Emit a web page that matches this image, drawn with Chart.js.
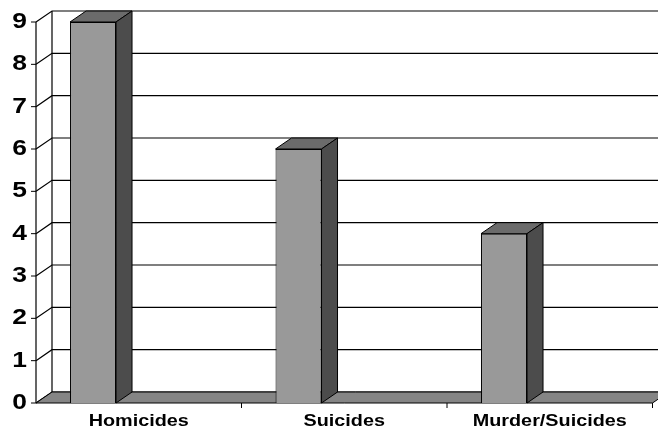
<!DOCTYPE html>
<html>
<head>
<meta charset="utf-8">
<script src="https://cdn.jsdelivr.net/npm/chart.js@4/dist/chart.umd.min.js"></script>
<style>
  html, body { margin: 0; padding: 0; background: #fff; }
  #wrap { width: 658px; height: 430px; }
</style>
</head>
<body>
<div id="wrap"><canvas id="chart"></canvas></div>
<script>
// data
const categories = ['Homicides', 'Suicides', 'Murder/Suicides'];
const counts = [9, 6, 4];
const yTicks = [0, 1, 2, 3, 4, 5, 6, 7, 8, 9];

// 3d look
const DX = 16, DY = -11;
const STRETCH = 1.2; // the source image is stretched sideways
const FRONT = '#999999', TOP = '#6b6b6b', SIDE = '#4c4c4c', FLOOR = '#858585';

function poly(ctx, pts, fill) {
  ctx.beginPath();
  ctx.moveTo(pts[0][0], pts[0][1]);
  for (let i = 1; i < pts.length; i++) ctx.lineTo(pts[i][0], pts[i][1]);
  ctx.closePath();
  if (fill) { ctx.fillStyle = fill; ctx.fill(); }
  ctx.strokeStyle = '#000';
  ctx.lineWidth = 1;
  ctx.stroke();
}

function stretchedText(ctx, text, x, y, align) {
  ctx.save();
  ctx.translate(x, y);
  ctx.scale(STRETCH, 1);
  ctx.textAlign = align;
  ctx.textBaseline = 'middle';
  ctx.fillText(text, 0, 0);
  ctx.restore();
}

const box3d = {
  id: 'box3d',
  beforeDatasetsDraw(chart) {
    const ctx = chart.ctx;
    const { left, right, bottom } = chart.chartArea;
    const y = chart.scales.y;
    ctx.save();
    // back wall gridlines
    ctx.strokeStyle = '#000';
    ctx.lineWidth = 1.2;
    yTicks.forEach(v => {
      const py = y.getPixelForValue(v);
      ctx.beginPath();
      ctx.moveTo(left, py);
      ctx.lineTo(left + DX, py + DY);
      ctx.lineTo(chart.width + 20, py + DY);
      ctx.stroke();
    });
    // wall edges
    const topY = y.getPixelForValue(yTicks[yTicks.length - 1]);
    ctx.beginPath();
    ctx.moveTo(left + DX, bottom + DY);
    ctx.lineTo(left + DX, topY + DY);
    ctx.moveTo(left, bottom);
    ctx.lineTo(left, topY);
    ctx.stroke();
    // floor
    poly(ctx, [[left, bottom], [right, bottom], [right + DX, bottom + DY], [left + DX, bottom + DY]], FLOOR);
    ctx.restore();
  },
  afterDatasetsDraw(chart) {
    const ctx = chart.ctx;
    const meta = chart.getDatasetMeta(0);
    ctx.save();
    meta.data.forEach(bar => {
      const { x, y, width, base } = bar.getProps(['x', 'y', 'width', 'base'], true);
      const l = x - width / 2, r = x + width / 2;
      poly(ctx, [[l, y], [r, y], [r + DX, y + DY], [l + DX, y + DY]], TOP);
      poly(ctx, [[r, y], [r + DX, y + DY], [r + DX, base + DY], [r, base]], SIDE);
    });
    ctx.restore();
  },
  afterDraw(chart) {
    const ctx = chart.ctx;
    const { left, bottom } = chart.chartArea;
    const x = chart.scales.x, y = chart.scales.y;
    ctx.save();
    ctx.strokeStyle = '#000';
    ctx.lineWidth = 1;
    ctx.fillStyle = '#000';
    // y ticks + labels
    ctx.font = 'bold 22px "Liberation Sans", Arial, sans-serif';
    yTicks.forEach(v => {
      const py = y.getPixelForValue(v);
      ctx.beginPath();
      ctx.moveTo(left - 5, py);
      ctx.lineTo(left, py);
      ctx.stroke();
      stretchedText(ctx, String(v), left - 9, py, 'right');
    });
    // x ticks + labels
    ctx.font = 'bold 16.5px "Liberation Sans", Arial, sans-serif';
    categories.forEach((c, i) => {
      const cx = x.getPixelForValue(i);
      const half = (x.getPixelForValue(1) - x.getPixelForValue(0)) / 2;
      ctx.beginPath();
      ctx.moveTo(cx + half, bottom);
      ctx.lineTo(cx + half, bottom + 5);
      ctx.stroke();
      stretchedText(ctx, c, cx, bottom + 18, 'center');
    });
    ctx.restore();
  }
};

new Chart(document.getElementById('chart'), {
  type: 'bar',
  data: {
    labels: categories,
    datasets: [
      {
        label: 'Count',
        data: counts,
        backgroundColor: FRONT,
        borderColor: '#000',
        borderWidth: 1,
        categoryPercentage: 0.89,
        barPercentage: 0.503
      },
      {
        // empty slot so the bars sit left of the category centre, as in the source
        label: '',
        data: categories.map(() => null),
        categoryPercentage: 0.89,
        barPercentage: 0.503
      }
    ]
  },
  options: {
    responsive: true,
    maintainAspectRatio: false,
    animation: false,
    layout: { padding: { left: 36, right: 5.5, top: 22, bottom: 27 } },
    plugins: { legend: { display: false }, tooltip: { enabled: false } },
    scales: {
      x: { display: false },
      y: { display: false, min: 0, max: 9 }
    }
  },
  plugins: [box3d]
});
</script>
</body>
</html>
